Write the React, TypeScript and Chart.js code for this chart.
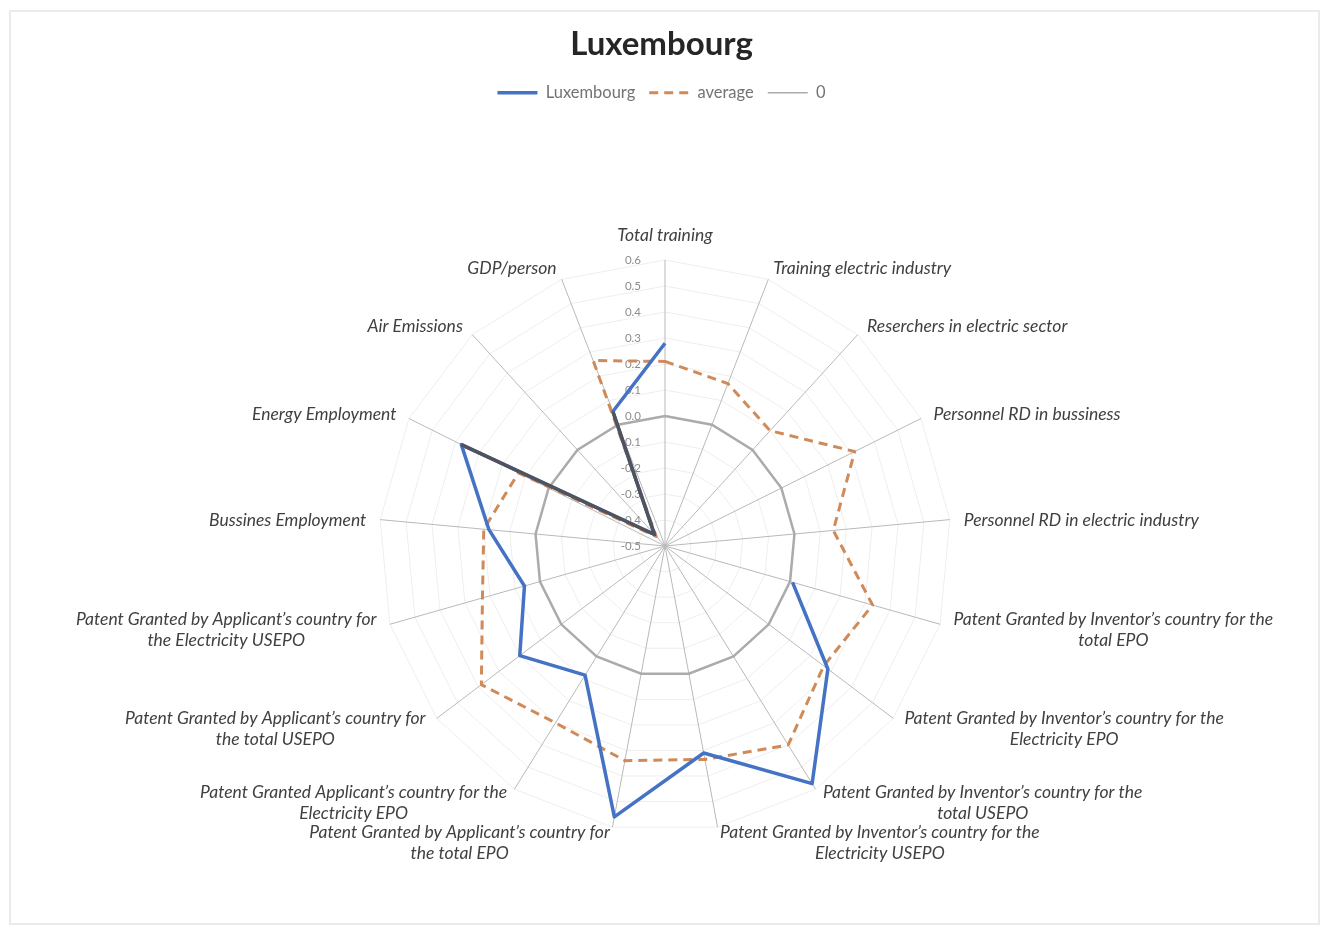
import React, { useEffect, useRef } from "react";
import { Chart, registerables } from "chart.js";

Chart.register(...registerables);

const categories: (string | string[])[] = [
  "Total training",
  "Training electric industry",
  "Reserchers in electric sector",
  "Personnel RD in bussiness",
  "Personnel RD in electric industry",
  ["Patent Granted by Inventor’s country for the", "total EPO"],
  ["Patent Granted by Inventor’s country for the", "Electricity EPO"],
  ["Patent Granted by Inventor’s country for the", "total USEPO"],
  ["Patent Granted by Inventor’s country for the", "Electricity USEPO"],
  ["Patent Granted by Applicant’s country for", "the total EPO"],
  ["Patent Granted Applicant’s country for the", "Electricity EPO"],
  ["Patent Granted by Applicant’s country for", "the total USEPO"],
  ["Patent Granted by Applicant’s country for", "the Electricity USEPO"],
  "Bussines Employment",
  "Energy Employment",
  "Air Emissions",
  "GDP/person",
];

const luxembourg: (number | null)[] = [
  0.28, null, null, null, null, 0.01, 0.285, 0.575, 0.31, 0.56, 0.084, 0.2, 0.062, 0.18, 0.375, -0.44, 0.055,
];

const average: number[] = [
  0.21, 0.17, 0.1, 0.315, 0.15, 0.33, 0.265, 0.4, 0.335, 0.34, 0.3, 0.385, 0.23, 0.2, 0.13, -0.45, 0.265,
];

const zero: number[] = [0, 0, 0, 0, 0, 0, 0, 0, 0, 0, 0, 0, 0, 0, 0, 0, 0];

const tickValues: number[] = [0.6, 0.5, 0.4, 0.3, 0.2, 0.1, 0.0, -0.1, -0.2, -0.3, -0.4, -0.5];
const tickLabels: string[] = ["0.6", "0.5", "0.4", "0.3", "0.2", "0.1", "0.0", "-0.1", "-0.2", "-0.3", "-0.4", "-0.5"];

// indices of the Luxembourg line drawn in dark grey (Energy Employment -> Air Emissions -> GDP/person)
const darkIndices: number[] = [14, 15, 16];

const CENTER_X = 665;
const CENTER_Y = 546;
const RADIUS = 286;

const BLUE = "#4472C4";
const ORANGE = "#d08a58";
const GRAY0 = "#ababab";
const DARK_SEG = "#50535c";

const labelsPlugin = {
  id: "customRadarText",
  beforeDatasetsDraw(chart: any) {
    const scale = chart.scales.r;
    const ctx: CanvasRenderingContext2D = chart.ctx;
    const labels = chart.data.labels as (string | string[])[];
    const n = labels.length;
    ctx.save();
    ctx.font = "11.5px Lato";
    ctx.fillStyle = "#8c8c8c";
    ctx.textAlign = "right";
    ctx.textBaseline = "middle";
    tickValues.forEach((v, k) => {
      const y = scale.yCenter - scale.getDistanceFromCenterForValue(v);
      ctx.fillText(tickLabels[k], scale.xCenter - 24, y);
    });
    ctx.font = "italic 17.5px Lato";
    ctx.fillStyle = "#404040";
    ctx.textAlign = "center";
    const lh = 21.5;
    for (let i = 0; i < n; i++) {
      const raw = labels[i];
      const lines = Array.isArray(raw) ? raw : [raw];
      const deg = (360 / n) * i;
      const pos = scale.getPointPosition(i, scale.drawingArea + 14);
      const w = Math.max(...lines.map((l) => ctx.measureText(l).width));
      let left: number;
      if (deg < 0.01 || Math.abs(deg - 180) < 0.01) left = pos.x - w / 2;
      else if (deg < 180) left = pos.x;
      else left = pos.x - w;
      const cy = deg < 0.01 ? pos.y - 11 : pos.y + 2;
      const top = cy - (lines.length * lh) / 2;
      lines.forEach((l, k) => {
        ctx.fillText(l, left + w / 2, top + lh * (k + 0.5));
      });
    }
    ctx.restore();
  },
};

export default function App() {
  const canvasRef = useRef<HTMLCanvasElement | null>(null);

  useEffect(() => {
    if (!canvasRef.current) return;
    const darkPart = luxembourg.map((v, i) => (darkIndices.includes(i) ? v : null));
    const chart = new Chart(canvasRef.current, {
      type: "radar",
      data: {
        labels: categories,
        datasets: [
          {
            label: "Luxembourg-dark",
            data: darkPart,
            borderColor: DARK_SEG,
            borderWidth: 3.5,
            borderJoinStyle: "round",
            fill: false,
            pointRadius: 0,
            pointHoverRadius: 0,
            spanGaps: false,
            clip: false,
          } as any,
          {
            label: "Luxembourg",
            data: luxembourg,
            borderColor: BLUE,
            borderWidth: 3.5,
            borderJoinStyle: "round",
            fill: false,
            pointRadius: 0,
            pointHoverRadius: 0,
            spanGaps: false,
            clip: false,
          } as any,
          {
            label: "average",
            data: average,
            borderColor: ORANGE,
            borderWidth: 3,
            borderDash: [9, 6],
            borderJoinStyle: "round",
            fill: false,
            pointRadius: 0,
            pointHoverRadius: 0,
            clip: false,
          } as any,
          {
            label: "0",
            data: zero,
            borderColor: GRAY0,
            borderWidth: 2.5,
            fill: false,
            pointRadius: 0,
            pointHoverRadius: 0,
            clip: false,
          } as any,
        ],
      },
      options: {
        responsive: false,
        animation: false,
        devicePixelRatio: 1,
        elements: { line: { tension: 0 } },
        plugins: {
          title: {
            display: true,
            text: "Luxembourg",
            color: "#262626",
            font: { family: "Lato", size: 33, weight: "bold" },
            padding: { top: 25, bottom: 6 },
          },
          legend: {
            display: true,
            position: "top",
            labels: {
              usePointStyle: true,
              pointStyleWidth: 40,
              color: "#737373",
              font: { family: "Lato", size: 16.5 },
              padding: 14,
              generateLabels: (chart: any) =>
                chart.data.datasets
                  .map((ds: any, i: number) => ({
                    text: ds.label,
                    fillStyle: "transparent",
                    strokeStyle: ds.borderColor,
                    lineWidth: ds.label === "0" ? 1.5 : ds.borderWidth,
                    lineDash: ds.borderDash || [],
                    pointStyle: "line",
                    hidden: false,
                    datasetIndex: i,
                    fontColor: "#737373",
                  }))
                  .filter((item: any) => item.text !== "Luxembourg-dark"),
            },
          },
          tooltip: { enabled: false },
        },
        scales: {
          r: {
            min: -0.5,
            max: 0.6,
            ticks: { display: false, stepSize: 0.1 },
            pointLabels: { display: false },
            grid: { color: "#eeeeee", lineWidth: 1 },
            angleLines: { color: "#b9b9b9", lineWidth: 1 },
            afterFit: (s: any) => {
              s.xCenter = CENTER_X;
              s.yCenter = CENTER_Y;
              s.drawingArea = RADIUS;
            },
          } as any,
        },
      },
      plugins: [labelsPlugin],
    });
    return () => chart.destroy();
  }, []);

  return (
    <>
      <div
        style={{
          position: "fixed",
          left: 9,
          top: 10,
          width: 1311,
          height: 915,
          border: "2px solid #ebebeb",
          boxSizing: "border-box",
          background: "#ffffff",
        }}
      />
      <canvas
        ref={canvasRef}
        width={1323}
        height={929}
        style={{ position: "fixed", left: 0, top: 0, width: 1323, height: 929 }}
      />
    </>
  );
}
